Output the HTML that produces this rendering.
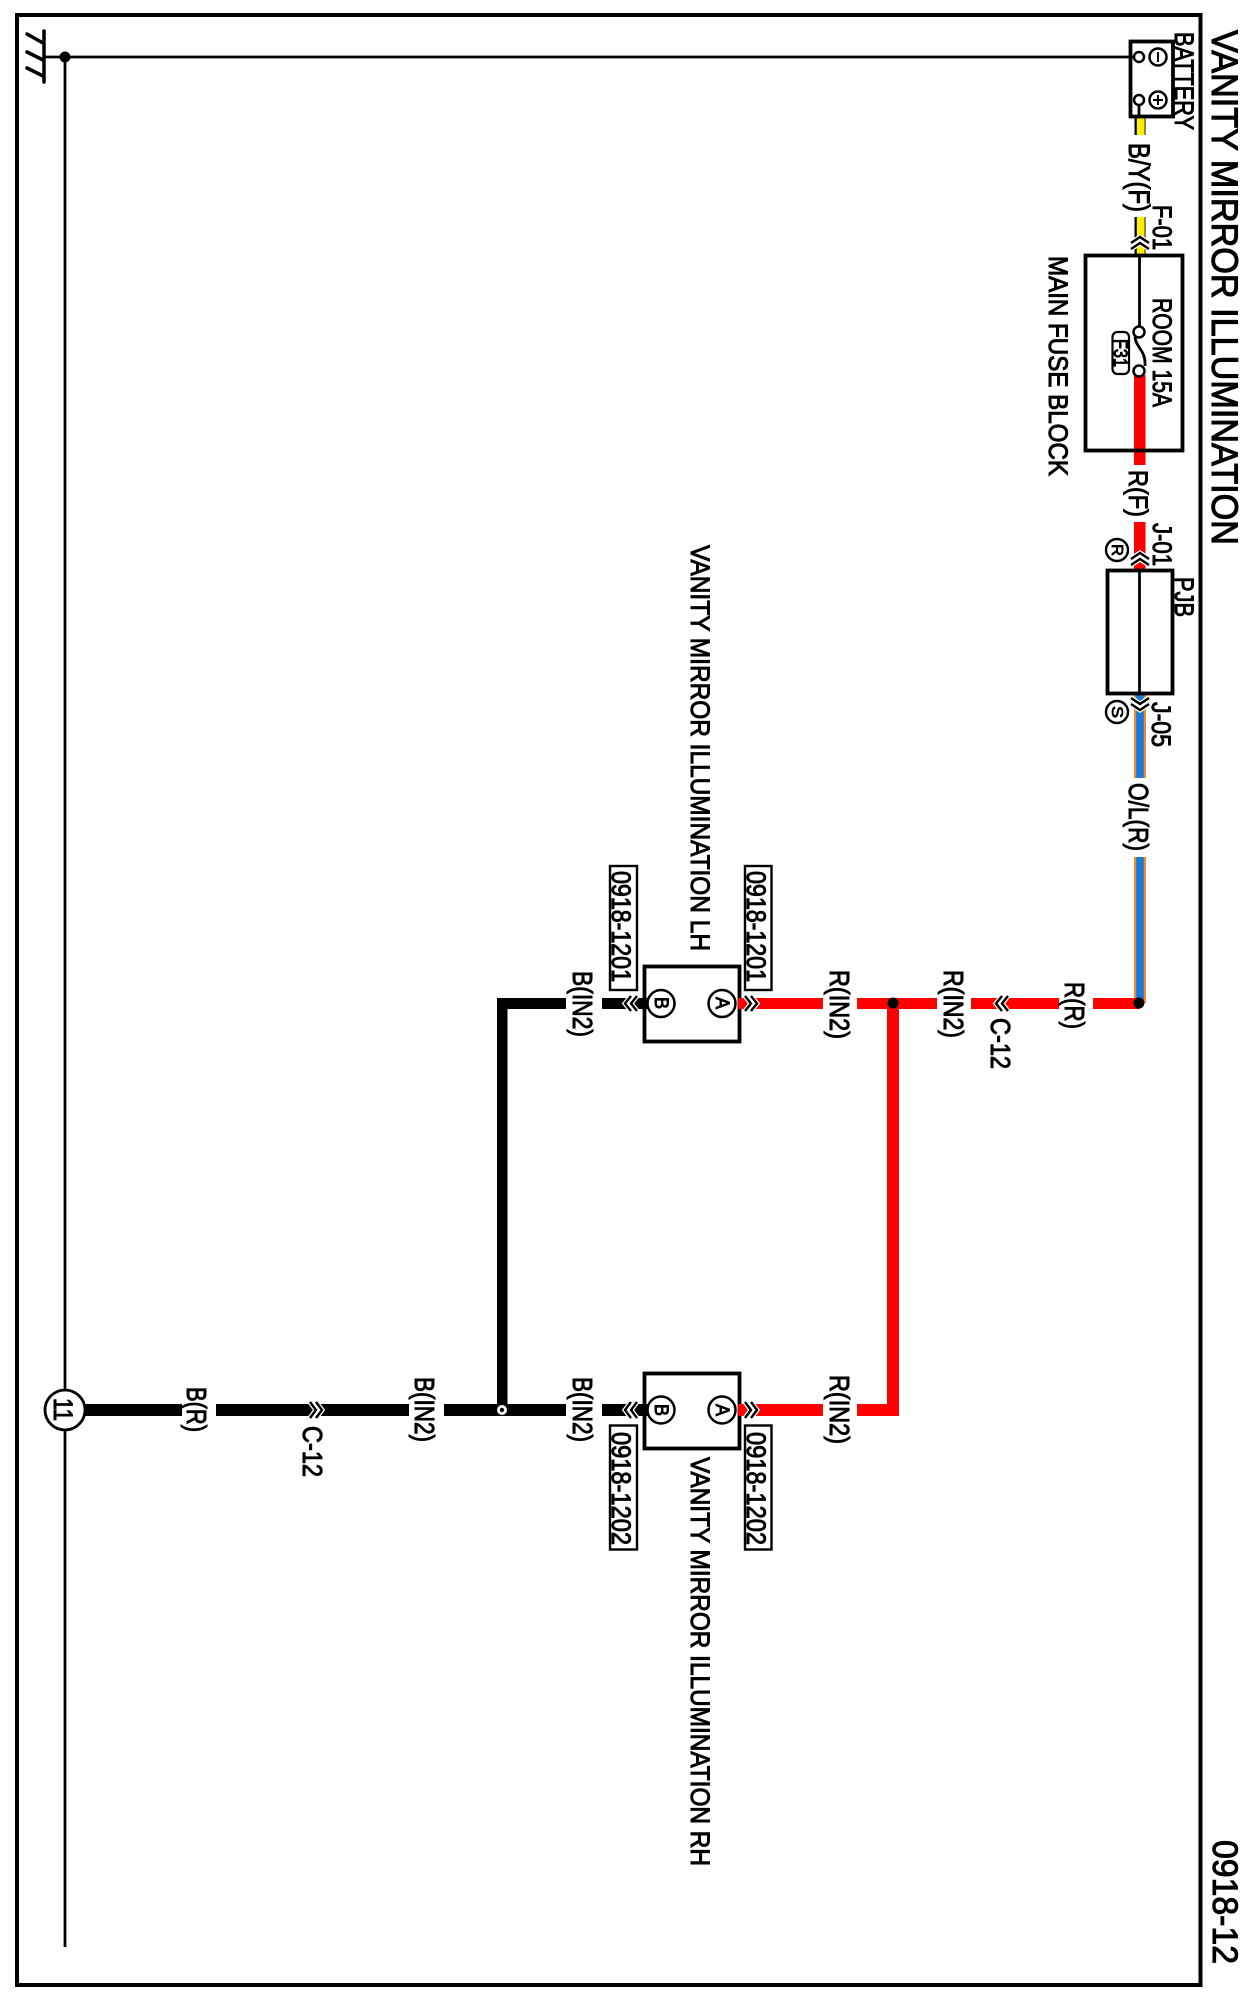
<!DOCTYPE html>
<html>
<head>
<meta charset="utf-8">
<style>
html,body{margin:0;padding:0;background:#fff;width:1241px;height:1998px;overflow:hidden}
svg{display:block}
text{font-family:"Liberation Sans",sans-serif;fill:#000;stroke:#000;stroke-width:.8}
.ch1{fill:none;stroke:#fff;stroke-width:5}
.ch2{fill:none;stroke:#000;stroke-width:2.4}
</style>
</head>
<body>
<svg width="1241" height="1998" viewBox="0 0 1241 1998" xmlns="http://www.w3.org/2000/svg">
<rect width="1241" height="1998" fill="#fff"/>
<!-- frame -->
<rect x="17" y="15" width="1183.5" height="1970" fill="none" stroke="#000" stroke-width="4"/>

<!-- title -->
<text transform="translate(1212,30) rotate(90) scale(1,1.08)" font-size="34" textLength="515" lengthAdjust="spacingAndGlyphs" style="stroke-width:1">VANITY MIRROR ILLUMINATION</text>
<text transform="translate(1213,1840) rotate(90) scale(1,1.03)" font-size="34" textLength="124" lengthAdjust="spacingAndGlyphs" style="stroke-width:1">0918-12</text>

<!-- ground + main thin lines -->
<g stroke="#000" stroke-width="2.8" fill="none">
<line x1="44" y1="57" x2="1130" y2="57"/>
<line x1="65" y1="57" x2="65" y2="1947"/>
<line x1="44" y1="31" x2="44" y2="82" stroke-width="3.5" stroke-linecap="round"/>
<line x1="27" y1="34" x2="43" y2="43" stroke-width="3.5" stroke-linecap="round"/>
<line x1="27" y1="52" x2="43" y2="60" stroke-width="3.5" stroke-linecap="round"/>
<line x1="27" y1="68" x2="43" y2="76" stroke-width="3.5" stroke-linecap="round"/>
</g>
<circle cx="65" cy="57" r="5.5" fill="#000"/>

<!-- yellow wire -->
<rect x="1134.5" y="117" width="11" height="18" fill="#000"/>
<rect x="1136.8" y="117" width="7.8" height="18" fill="#ffee00"/>
<rect x="1134.5" y="217" width="11" height="37" fill="#000"/>
<rect x="1136.8" y="217" width="7.8" height="37" fill="#ffee00"/>

<!-- red wire top -->
<rect x="1134" y="375" width="11.5" height="90" fill="#f00"/>
<rect x="1134" y="522" width="11.5" height="47" fill="#f00"/>

<!-- orange/blue wire -->
<rect x="1134" y="694" width="12" height="84" fill="#f28c1c"/>
<rect x="1136.2" y="694" width="7.6" height="84" fill="#1a78e0"/>
<rect x="1134" y="857" width="12" height="146" fill="#f28c1c"/>
<rect x="1136.2" y="857" width="7.6" height="146" fill="#1a78e0"/>

<!-- red horizontal run -->
<g fill="#f00">
<rect x="1093" y="998" width="47" height="11"/>
<rect x="971" y="998" width="88" height="11"/>
<rect x="887" y="998" width="50" height="11"/>
<rect x="857" y="998" width="42" height="11"/>
<rect x="740" y="998" width="83" height="11"/>
<rect x="887" y="1003" width="12" height="413"/>
<rect x="857" y="1404" width="42" height="12"/>
<rect x="740" y="1404" width="83" height="12"/>
</g>
<circle cx="1139" cy="1003" r="5.5" fill="#000"/>
<circle cx="893" cy="1003" r="5.5" fill="#000"/>

<!-- black wires -->
<g fill="#000">
<rect x="497" y="998" width="69" height="11"/>
<rect x="602" y="998" width="42" height="11"/>
<rect x="497" y="998" width="10.5" height="412"/>
<rect x="85" y="1404" width="97" height="12"/>
<rect x="216" y="1404" width="193" height="12"/>
<rect x="444" y="1404" width="122" height="12"/>
<rect x="602" y="1404" width="42" height="12"/>
</g>
<circle cx="502" cy="1410" r="5" fill="#fff"/>
<circle cx="502" cy="1410" r="2.2" fill="#000"/>

<!-- battery -->
<rect x="1130.5" y="41.5" width="42.5" height="75" fill="#fff" stroke="#000" stroke-width="3.8"/>
<line x1="1130" y1="57" x2="1134" y2="57" stroke="#000" stroke-width="2.8"/>
<line x1="1139" y1="105" x2="1139" y2="117" stroke="#000" stroke-width="2.8"/>
<g fill="#fff" stroke="#000" stroke-width="2.5">
<circle cx="1139" cy="57" r="5"/>
<circle cx="1139" cy="100" r="5"/>
<circle cx="1158" cy="57" r="8.5"/>
<circle cx="1158" cy="100" r="8.5"/>
</g>
<g stroke="#000" stroke-width="2">
<line x1="1158" y1="52" x2="1158" y2="62"/>
<line x1="1158" y1="95" x2="1158" y2="105"/>
<line x1="1153" y1="100" x2="1163" y2="100"/>
</g>
<text transform="translate(1175,32) rotate(90) scale(1,1.22)" font-size="22" textLength="98" lengthAdjust="spacingAndGlyphs">BATTERY</text>

<!-- main fuse block -->
<rect x="1085.5" y="255.5" width="97" height="195" fill="none" stroke="#000" stroke-width="3.8"/>
<line x1="1139.5" y1="254" x2="1139.5" y2="327" stroke="#000" stroke-width="2.8"/>
<path d="M1135,337 C1136,348 1146,350 1145,366" fill="none" stroke="#000" stroke-width="2.8"/>
<circle cx="1139" cy="332" r="5.5" fill="#fff" stroke="#000" stroke-width="2.5"/>
<circle cx="1139" cy="371" r="5.5" fill="#fff" stroke="#000" stroke-width="2.5"/>
<rect x="1112.5" y="332" width="16.5" height="42" rx="5" fill="#fff" stroke="#000" stroke-width="2.2"/>
<text transform="translate(1114,339) rotate(90) scale(1,1.2)" font-size="16" textLength="28" lengthAdjust="spacingAndGlyphs">F31</text>
<text transform="translate(1153,298) rotate(90) scale(1,1.22)" font-size="22" textLength="109" lengthAdjust="spacingAndGlyphs">ROOM 15A</text>
<text transform="translate(1049,256) rotate(90) scale(1,1.22)" font-size="22" textLength="220" lengthAdjust="spacingAndGlyphs">MAIN FUSE BLOCK</text>

<!-- PJB -->
<rect x="1107.5" y="570.5" width="65" height="123" fill="#fff" stroke="#000" stroke-width="3.8"/>
<line x1="1139.5" y1="569" x2="1139.5" y2="695" stroke="#000" stroke-width="2.8"/>
<text transform="translate(1175,577) rotate(90) scale(1,1.22)" font-size="22" textLength="40" lengthAdjust="spacingAndGlyphs">PJB</text>
<text transform="translate(1153,523) rotate(90) scale(1,1.22)" font-size="22" textLength="43" lengthAdjust="spacingAndGlyphs">J-01</text>
<text transform="translate(1152,702) rotate(90) scale(1,1.22)" font-size="22" textLength="45" lengthAdjust="spacingAndGlyphs">J-05</text>
<circle cx="1117" cy="550" r="11" fill="#fff" stroke="#000" stroke-width="2.4"/>
<circle cx="1117" cy="712" r="11" fill="#fff" stroke="#000" stroke-width="2.4"/>
<text transform="translate(1112,544) rotate(90)" font-size="16" textLength="12" lengthAdjust="spacingAndGlyphs">R</text>
<text transform="translate(1112,706) rotate(90)" font-size="16" textLength="12" lengthAdjust="spacingAndGlyphs">S</text>

<!-- wire labels -->
<g>
<text transform="translate(1129,143) rotate(90) scale(1,1.22)" font-size="24" textLength="69" lengthAdjust="spacingAndGlyphs">B/Y(F)</text>
<text transform="translate(1153,205) rotate(90) scale(1,1.22)" font-size="22" textLength="45" lengthAdjust="spacingAndGlyphs">F-01</text>
<text transform="translate(1129,470) rotate(90) scale(1,1.22)" font-size="22" textLength="47" lengthAdjust="spacingAndGlyphs">R(F)</text>
<text transform="translate(1129,783) rotate(90) scale(1,1.22)" font-size="23" textLength="68" lengthAdjust="spacingAndGlyphs">O/L(R)</text>
<text transform="translate(1065,982) rotate(90) scale(1,1.22)" font-size="23" textLength="47" lengthAdjust="spacingAndGlyphs">R(R)</text>
<text transform="translate(944,970) rotate(90) scale(1,1.22)" font-size="23" textLength="68" lengthAdjust="spacingAndGlyphs">R(IN2)</text>
<text transform="translate(991,1018) rotate(90) scale(1,1.22)" font-size="23" textLength="51" lengthAdjust="spacingAndGlyphs">C-12</text>
<text transform="translate(830,970) rotate(90) scale(1,1.22)" font-size="23" textLength="69" lengthAdjust="spacingAndGlyphs">R(IN2)</text>
<text transform="translate(830,1375) rotate(90) scale(1,1.22)" font-size="23" textLength="69" lengthAdjust="spacingAndGlyphs">R(IN2)</text>
<text transform="translate(573,971) rotate(90) scale(1,1.22)" font-size="23" textLength="66" lengthAdjust="spacingAndGlyphs">B(IN2)</text>
<text transform="translate(573,1377) rotate(90) scale(1,1.22)" font-size="23" textLength="65" lengthAdjust="spacingAndGlyphs">B(IN2)</text>
<text transform="translate(415,1377) rotate(90) scale(1,1.22)" font-size="23" textLength="65" lengthAdjust="spacingAndGlyphs">B(IN2)</text>
<text transform="translate(187,1387) rotate(90) scale(1,1.22)" font-size="23" textLength="45" lengthAdjust="spacingAndGlyphs">B(R)</text>
<text transform="translate(303,1426) rotate(90) scale(1,1.22)" font-size="23" textLength="51" lengthAdjust="spacingAndGlyphs">C-12</text>
</g>

<!-- LH component -->
<rect x="644.5" y="966.5" width="95" height="75" fill="#fff" stroke="#000" stroke-width="3.8"/>
<rect x="640" y="998" width="10" height="11" fill="#000"/>
<rect x="738" y="998" width="10" height="11" fill="#f00"/>
<circle cx="661" cy="1003.5" r="13.5" fill="#fff" stroke="#000" stroke-width="2.5"/>
<circle cx="722" cy="1003.5" r="13.5" fill="#fff" stroke="#000" stroke-width="2.5"/>
<text transform="translate(655,997) rotate(90) scale(1,1.2)" font-size="16" textLength="12" lengthAdjust="spacingAndGlyphs">B</text>
<text transform="translate(716,997) rotate(90) scale(1,1.2)" font-size="16" textLength="12" lengthAdjust="spacingAndGlyphs">A</text>
<rect x="610" y="866" width="27" height="124" fill="#fff" stroke="#000" stroke-width="2.4"/>
<rect x="745" y="866" width="26.5" height="124" fill="#fff" stroke="#000" stroke-width="2.4"/>
<text transform="translate(612,871) rotate(90) scale(1,1.22)" font-size="22" textLength="111" lengthAdjust="spacingAndGlyphs">0918-1201</text>
<text transform="translate(747,871) rotate(90) scale(1,1.22)" font-size="22" textLength="111" lengthAdjust="spacingAndGlyphs">0918-1201</text>
<text transform="translate(691,545) rotate(90) scale(1,1.22)" font-size="22" textLength="406" lengthAdjust="spacingAndGlyphs">VANITY MIRROR ILLUMINATION LH</text>

<!-- RH component -->
<rect x="644.5" y="1373.5" width="95" height="75" fill="#fff" stroke="#000" stroke-width="3.8"/>
<rect x="640" y="1404" width="10" height="12" fill="#000"/>
<rect x="738" y="1404" width="10" height="12" fill="#f00"/>
<circle cx="661" cy="1410" r="13.5" fill="#fff" stroke="#000" stroke-width="2.5"/>
<circle cx="722" cy="1410" r="13.5" fill="#fff" stroke="#000" stroke-width="2.5"/>
<text transform="translate(655,1404) rotate(90) scale(1,1.2)" font-size="16" textLength="12" lengthAdjust="spacingAndGlyphs">B</text>
<text transform="translate(716,1404) rotate(90) scale(1,1.2)" font-size="16" textLength="12" lengthAdjust="spacingAndGlyphs">A</text>
<rect x="610" y="1425.5" width="27" height="124" fill="#fff" stroke="#000" stroke-width="2.4"/>
<rect x="745" y="1425.5" width="26.5" height="124" fill="#fff" stroke="#000" stroke-width="2.4"/>
<text transform="translate(612,1432) rotate(90) scale(1,1.22)" font-size="22" textLength="113" lengthAdjust="spacingAndGlyphs">0918-1202</text>
<text transform="translate(747,1432) rotate(90) scale(1,1.22)" font-size="22" textLength="113" lengthAdjust="spacingAndGlyphs">0918-1202</text>
<text transform="translate(691,1457) rotate(90) scale(1,1.22)" font-size="22" textLength="409" lengthAdjust="spacingAndGlyphs">VANITY MIRROR ILLUMINATION RH</text>

<!-- ground circle 11 -->
<circle cx="65" cy="1410" r="20" fill="#fff" stroke="#000" stroke-width="2.8"/>
<text transform="translate(54,1398) rotate(90) scale(1,1.2)" font-size="22" textLength="23" lengthAdjust="spacingAndGlyphs">11</text>

<!-- chevrons -->
<g class="ch1">
<path d="M1131,243 L1140,237 L1149,243 M1131,249 L1140,243 L1149,249"/>
<path d="M1131,559 L1140,553 L1149,559 M1131,565 L1140,559 L1149,565"/>
<path d="M1131,698 L1140,704 L1149,698 M1131,704 L1140,710 L1149,704"/>
<path d="M1002,996 L996,1003.5 L1002,1011 M1008,996 L1002,1003.5 L1008,1011"/>
<path d="M745,996 L751,1003.5 L745,1011 M751,996 L757,1003.5 L751,1011"/>
<path d="M745,1402 L751,1410 L745,1418 M751,1402 L757,1410 L751,1418"/>
<path d="M631,996 L625,1003.5 L631,1011 M637,996 L631,1003.5 L637,1011"/>
<path d="M631,1402 L625,1410 L631,1418 M637,1402 L631,1410 L637,1418"/>
<path d="M310,1402 L316,1410 L310,1418 M316,1402 L322,1410 L316,1418"/>
</g>
<g class="ch2">
<path d="M1131,243 L1140,237 L1149,243 M1131,249 L1140,243 L1149,249"/>
<path d="M1131,559 L1140,553 L1149,559 M1131,565 L1140,559 L1149,565"/>
<path d="M1131,698 L1140,704 L1149,698 M1131,704 L1140,710 L1149,704"/>
<path d="M1002,996 L996,1003.5 L1002,1011 M1008,996 L1002,1003.5 L1008,1011"/>
<path d="M745,996 L751,1003.5 L745,1011 M751,996 L757,1003.5 L751,1011"/>
<path d="M745,1402 L751,1410 L745,1418 M751,1402 L757,1410 L751,1418"/>
<path d="M631,996 L625,1003.5 L631,1011 M637,996 L631,1003.5 L637,1011"/>
<path d="M631,1402 L625,1410 L631,1418 M637,1402 L631,1410 L637,1418"/>
<path d="M310,1402 L316,1410 L310,1418 M316,1402 L322,1410 L316,1418"/>
</g>
</svg>
</body>
</html>
